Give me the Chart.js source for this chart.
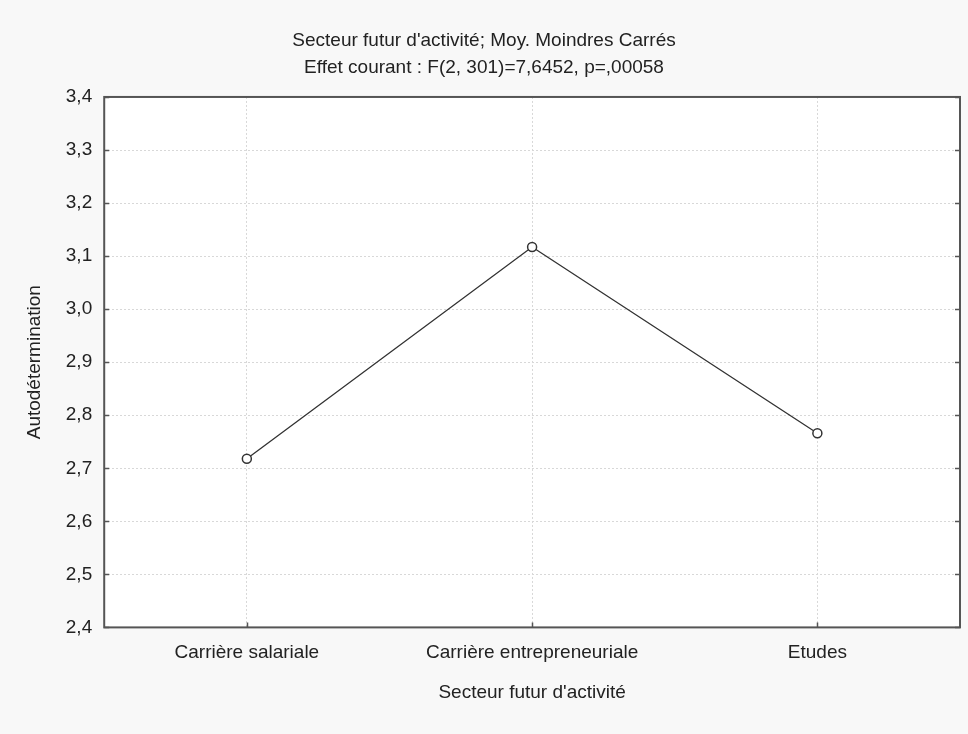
<!DOCTYPE html>
<html>
<head>
<meta charset="utf-8">
<script src="https://cdn.jsdelivr.net/npm/chart.js@4.4.1/dist/chart.umd.min.js"></script>
<style>
  html, body { margin: 0; padding: 0; background: #f8f8f8; }
  #wrap { width: 968px; height: 734px; }
</style>
</head>
<body>
<div id="wrap"><canvas id="chart1"></canvas></div>
<script>
var categories = ["Carrière salariale", "Carrière entrepreneuriale", "Etudes"];
var meanValues = [2.718, 3.117, 2.766];
var yTicks = [2.4, 2.5, 2.6, 2.7, 2.8, 2.9, 3.0, 3.1, 3.2, 3.3, 3.4];
var titleLines = ["Secteur futur d'activité; Moy. Moindres Carrés", "Effet courant : F(2, 301)=7,6452, p=,00058"];
var xTitle = "Secteur futur d'activité";
var yTitle = "Autodétermination";

function fmt(v){
    return v.toFixed(1).replace(".", ",");
}

// grey page, white plot area, dark frame with inward ticks
var framePlugin = {
    id: "frame",
    beforeDraw: function(chart){
        var c = chart.ctx, a = chart.chartArea;
        c.save();
        c.fillStyle = "#f8f8f8";
        c.fillRect(0, 0, chart.width, chart.height);
        c.fillStyle = "#ffffff";
        c.fillRect(a.left, a.top, a.right - a.left, a.bottom - a.top);
        c.restore();
    },
    afterDatasetsDraw: function(chart){
        var c = chart.ctx, a = chart.chartArea;
        var y = chart.scales.y, x = chart.scales.x;
        c.save();
        c.strokeStyle = "#555555";
        c.lineWidth = 2;
        c.strokeRect(a.left, a.top, a.right - a.left, a.bottom - a.top);
        c.lineWidth = 1.5;
        c.beginPath();
        yTicks.forEach(function(t){
            var py = Math.round(y.getPixelForValue(t)) + 0.5;
            c.moveTo(a.left, py); c.lineTo(a.left + 5, py);
            c.moveTo(a.right, py); c.lineTo(a.right - 5, py);
        });
        categories.forEach(function(cat, i){
            var px = Math.round(x.getPixelForValue(i)) + 0.5;
            c.moveTo(px, a.bottom); c.lineTo(px, a.bottom - 5);
        });
        c.stroke();
        c.restore();
    }
};

Chart.defaults.font.family = "'Liberation Sans', Arial, sans-serif";
Chart.defaults.color = "#222222";

var ctx = document.getElementById("chart1");
var chartGraph = new Chart(ctx, {
    type: "line",
    data: {
        labels: categories,
        datasets: [{
            data: meanValues,
            borderColor: "#333333",
            borderWidth: 1.3,
            pointRadius: 4.5,
            pointBorderWidth: 1.5,
            pointBackgroundColor: "#ffffff",
            pointBorderColor: "#333333",
            fill: false,
            tension: 0
        }]
    },
    options: {
        responsive: true,
        maintainAspectRatio: false,
        animation: false,
        layout: { padding: { left: 8, right: 8, top: 14, bottom: 30 } },
        plugins: {
            legend: { display: false },
            tooltip: { enabled: false },
            title: {
                display: true,
                text: titleLines,
                font: { size: 19, weight: "normal", lineHeight: 1.42 },
                color: "#222222",
                padding: { top: 13, bottom: 16 }
            }
        },
        scales: {
            x: {
                type: "category",
                offset: true,
                grid: {
                    offset: false,
                    color: "#d8d8d8",
                    lineWidth: 1,
                    drawTicks: false
                },
                border: { display: false, dash: [2, 2] },
                ticks: { font: { size: 19 }, color: "#222222", padding: 14 },
                title: { display: true, text: xTitle, font: { size: 19 }, color: "#222222", padding: { top: 3, bottom: 0 } }
            },
            y: {
                min: 2.4,
                max: 3.4,
                afterBuildTicks: function(scale){
                    scale.ticks = yTicks.map(function(v){ return { value: v }; });
                },
                grid: {
                    color: "#d8d8d8",
                    lineWidth: 1,
                    drawTicks: false
                },
                border: { display: false, dash: [2, 2] },
                ticks: {
                    font: { size: 19 },
                    color: "#222222",
                    padding: 12,
                    callback: function(v){ return fmt(v); }
                },
                title: { display: true, text: yTitle, font: { size: 19 }, color: "#222222", padding: { top: 15, bottom: 8 } }
            }
        }
    },
    plugins: [framePlugin]
});
</script>
</body>
</html>
